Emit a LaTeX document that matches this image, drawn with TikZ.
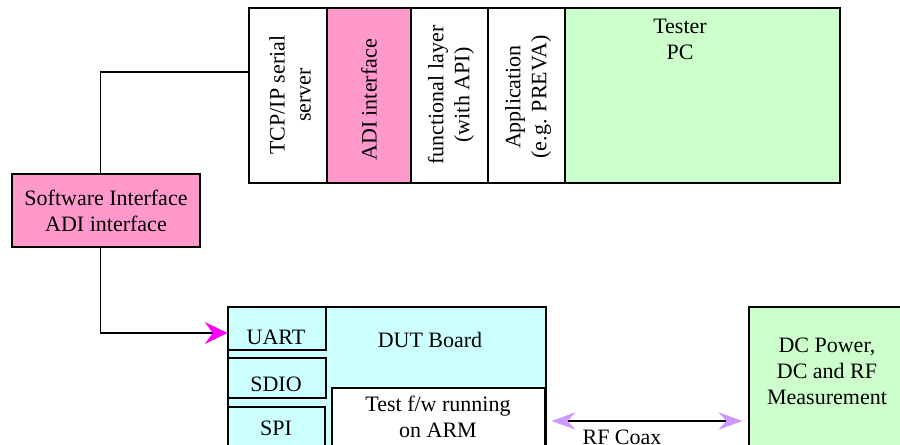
\documentclass[tikz,border=0pt]{standalone}
\usepackage{fontspec}
\setmainfont{Liberation Serif}
\usetikzlibrary{fit,arrows.meta}

\definecolor{pinkfill}{HTML}{FF99CC}
\definecolor{greenfill}{HTML}{CCFFCC}
\definecolor{cyanfill}{HTML}{CCFFFF}
\definecolor{coaxtip}{HTML}{CC99FF}
\definecolor{linktip}{HTML}{FF00FF}

\tikzset{
  blk/.style={draw=black, line width=0.8pt, inner sep=0pt, rectangle},
  lbl/.style={font=\fontsize{16.5}{19.5}\selectfont, align=center, inner sep=0pt},
  vlbl/.style={lbl, rotate=90},
  wire/.style={draw=black, line width=0.8pt},
  linkarrow/.style={wire, -{Stealth[length=17pt,width=16.5pt,inset=6pt,fill=linktip,color=linktip]}},
  coaxarrow/.style={wire, {Stealth[length=18pt,width=13pt,inset=6pt,color=coaxtip]}-{Stealth[length=18pt,width=13pt,inset=6pt,color=coaxtip]}},
}

\begin{document}
\begin{tikzpicture}[x=0.75pt, y=-0.75pt]
  \useasboundingbox (0,0) rectangle (900,445);
  \clip (0,0) rectangle (900,445);

  % Tester PC software stack
  \node[blk, fill=white, fit={(249,8) (327,183)}] (tcp) {};
  \node[blk, fill=pinkfill, fit={(327,8) (411,183)}] (adi) {};
  \node[blk, fill=white, fit={(411,8) (488,183)}] (func) {};
  \node[blk, fill=white, fit={(488,8) (565,183)}] (app) {};
  \node[blk, fill=greenfill, fit={(565,8) (840,183)}] (tester) {};

  \node[vlbl] (tcptext) at (290,95) {TCP/IP serial\\server};
  \node[vlbl] (aditext) at (369,100) {ADI interface};
  \node[vlbl] (functext) at (451,95) {functional layer\\(with API)};
  \node[vlbl] (apptext) at (528,97) {Application\\(e.g. PREVA)};
  \node[lbl] (testertext) at (680,39) {Tester\\PC};

  % Software interface between PC and DUT
  \node[blk, fill=pinkfill, fit={(12,174) (200,247)}] (sw) {};
  \node[lbl] (swtext) at (sw.center) {Software Interface\\ADI interface};

  % DUT board with its host interfaces
  \node[blk, fill=cyanfill, fit={(228,307) (546,470)}] (dut) {};
  \node[blk, fill=cyanfill, fit={(228,307) (326,350)}] (uart) {};
  \node[blk, fill=cyanfill, fit={(228,358) (326,398)}] (sdio) {};
  \node[blk, fill=cyanfill, fit={(228,407) (325,470)}] (spi) {};
  \node[blk, fill=white, fit={(332,388) (545,470)}] (fw) {};

  \node[lbl] (uarttext) at (276,337) {UART};
  \node[lbl] (duttext) at (430,340) {DUT Board};
  \node[lbl] (sdiotext) at (276,384) {SDIO};
  \node[lbl] (spitext) at (276,428) {SPI};
  \node[lbl] (fwtext) at (438,417) {Test f/w running\\on ARM};

  % Measurement equipment
  \node[blk, fill=greenfill, fit={(749,307) (930,470)}] (dc) {};
  \node[lbl] (dctext) at (827,371) {DC Power,\\DC and RF\\Measurement};

  % Connections
  \coordinate (tapy) at (0,72);
  \coordinate (coaxy) at (0,421);
  \draw[wire] (tcp.west |- tapy) -| ([xshift=-4pt]sw.north);
  \draw[linkarrow] ([xshift=-4pt]sw.south) |- ([yshift=-3.4pt]uart.west);
  \draw[coaxarrow, shorten <=4.5pt, shorten >=4.5pt] (fw.east |- coaxy) -- (dc.west |- coaxy);
  \node[lbl] (coaxtext) at (622,437) {RF Coax};
\end{tikzpicture}
\end{document}
